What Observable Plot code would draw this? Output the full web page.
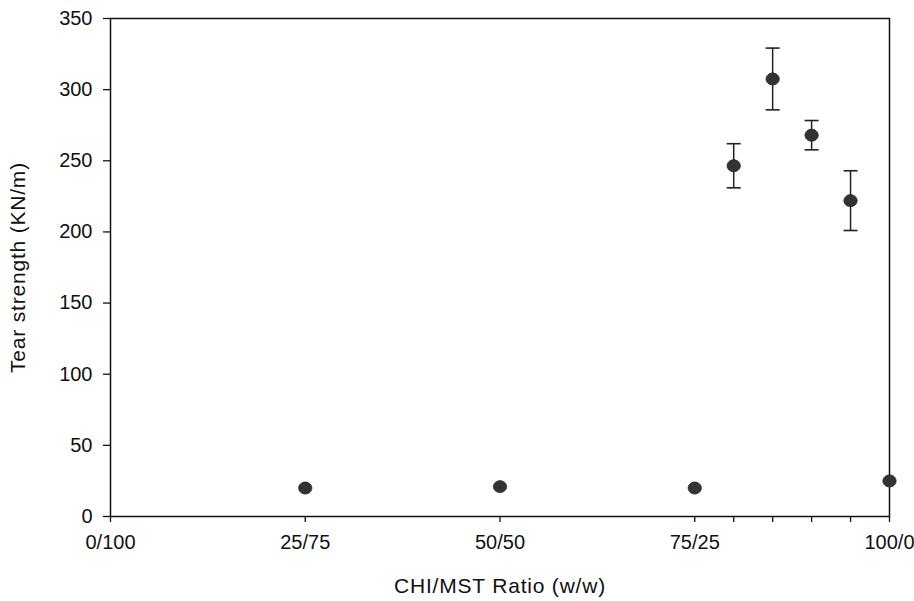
<!DOCTYPE html>
<html>
<head>
<meta charset="utf-8">
<script src="https://cdn.jsdelivr.net/npm/d3@7"></script>
<script src="https://cdn.jsdelivr.net/npm/@observablehq/plot@0.6"></script>
<style>
  html, body { margin: 0; padding: 0; background: #fff; }
  g[aria-label="x-axis label"] text, g[aria-label="y-axis label"] text { letter-spacing: 0.8px; font-size: 21px; }
</style>
</head>
<body>
<div id="chart"></div>
<script>
// CHI content (%) of each sample and its tick label
const tickPositions = [0, 25, 50, 75, 80, 85, 90, 95, 100];
const tickLabels = {0: "0/100", 25: "25/75", 50: "50/50", 75: "75/25", 100: "100/0"};
const chiPercent = [25, 50, 75, 80, 85, 90, 95, 100];
const tearStrength = [20, 21, 20, 246.5, 307.5, 268, 222, 25];
const tearError = [0, 0, 0, 15.5, 21.7, 10.3, 21, 0];
const yTicks = [0, 50, 100, 150, 200, 250, 300, 350];

const data = chiPercent.map((x, i) => ({
  x, y: tearStrength[i], lo: tearStrength[i] - tearError[i], hi: tearStrength[i] + tearError[i], e: tearError[i]
}));
const withErr = data.filter(d => d.e > 0);

const capSymbol = {
  draw(context, size) {
    const w = Math.sqrt(size / Math.PI);
    context.moveTo(-w, 0);
    context.lineTo(w, 0);
  }
};
const ellipseSymbol = {
  draw(context, size) {
    const r = Math.sqrt(size / Math.PI);
    const rx = r * 1.05, ry = r * 0.95, k = 0.5523;
    context.moveTo(rx, 0);
    context.bezierCurveTo(rx, ry * k, rx * k, ry, 0, ry);
    context.bezierCurveTo(-rx * k, ry, -rx, ry * k, -rx, 0);
    context.bezierCurveTo(-rx, -ry * k, -rx * k, -ry, 0, -ry);
    context.bezierCurveTo(rx * k, -ry, rx, -ry * k, rx, 0);
    context.closePath();
  }
};

const font = "Liberation Sans, Arial, sans-serif";

const chart = Plot.plot({
  width: 914,
  height: 601,
  marginLeft: 110,
  marginRight: 25,
  marginTop: 18,
  marginBottom: 85,
  style: { fontFamily: font, fontSize: "20px", color: "#111", background: "#fff" },
  x: { domain: [0, 100] },
  y: { domain: [0, 350] },
  marks: [
    Plot.frame({ stroke: "#111", strokeWidth: 1.5 }),
    Plot.axisX({
      ticks: tickPositions,
      tickFormat: d => tickLabels[d] ?? "",
      tickSize: 6,
      tickPadding: 12,
      strokeWidth: 1.3,
      label: "CHI/MST Ratio (w/w)",
      labelAnchor: "center",
      labelArrow: "none",
      labelOffset: 76,
      fontSize: 20
    }),
    Plot.axisY({
      ticks: yTicks,
      tickSize: 7,
      tickPadding: 11,
      strokeWidth: 1.3,
      label: "Tear strength (KN/m)",
      labelAnchor: "center",
      labelArrow: "none",
      labelOffset: 100,
      fontSize: 20
    }),
    Plot.ruleX(withErr, { x: "x", y1: "lo", y2: "hi", stroke: "#222", strokeWidth: 1.5 }),
    Plot.dot(withErr, { x: "x", y: "lo", symbol: capSymbol, r: 7, stroke: "#222", strokeWidth: 1.6, fill: "none" }),
    Plot.dot(withErr, { x: "x", y: "hi", symbol: capSymbol, r: 7, stroke: "#222", strokeWidth: 1.6, fill: "none" }),
    Plot.dot(data, { x: "x", y: "y", symbol: ellipseSymbol, r: 6.3, fill: "#333", stroke: "#222", strokeWidth: 0.8 })
  ]
});
document.getElementById("chart").appendChild(chart);
</script>
</body>
</html>
